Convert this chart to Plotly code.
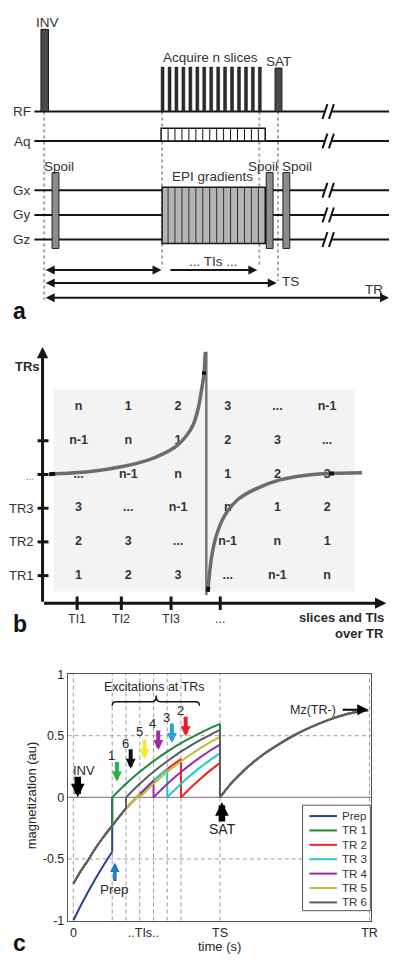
import plotly.graph_objects as go

W, H = 396, 963
FONT = "Liberation Sans, Arial, Helvetica, sans-serif"
INK = "#151515"
TXT = "#262626"


def pxx(p):
    return p / W


def pxy(p):
    return 1 - p / H

# ====================== DATA ======================
# ---- (a) pulse-sequence timing (arbitrary time units) ----
channels = ["RF", "Aq", "Gx", "Gy", "Gz"]
inv_time = 0.5
slice_times = [120.5, 127.6, 134.6, 141.7, 148.8, 155.9, 162.9, 170.0,
               177.1, 184.1, 191.2, 198.3, 205.4, 212.4, 219.5]
sat_time = 238.5
spoil_times = [11.5, 229.5, 246.5]
ts_time = 238.0
tr_time = 351.0
break_time = 289.1

# ---- (b) TI / TR cycling scheme ----
col_positions = [1, 2, 3, 4, 5, 6]
row_positions = [1, 2, 3, 4, 5, 6]
table_rows = [
    ["1", "2", "3", "...", "n-1", "n"],
    ["2", "3", "...", "n-1", "n", "1"],
    ["3", "...", "n-1", "n", "1", "2"],
    ["...", "n-1", "n", "1", "2", "3"],
    ["n-1", "n", "1", "2", "3", "..."],
    ["n", "1", "2", "3", "...", "n-1"],
]
ti_tick_pos = [0.97, 1.86, 2.86, 3.85]
ti_tick_labels = ["TI1", "TI2", "TI3", "..."]
tr_tick_pos = [1, 2, 3, 4, 5]
tr_tick_labels = ["TR1", "TR2", "TR3", "...", ""]
curve_left_x = [0.41, 1.20, 1.86, 2.38, 2.71, 2.98, 3.17, 3.31, 3.41, 3.47, 3.52, 3.55]
curve_left_y = [4.01, 4.08, 4.23, 4.42, 4.62, 4.86, 5.15, 5.49, 5.98, 6.47, 6.96, 7.64]
jump_x = [3.57, 3.57]
jump_y = [7.64, 0.42]
curve_right_x = [3.60, 3.67, 3.77, 3.93, 4.20, 4.59, 5.05, 5.58, 6.04, 6.70]
curve_right_y = [0.52, 1.50, 2.18, 2.76, 3.25, 3.59, 3.84, 3.98, 4.03, 4.05]

# ---- (c) longitudinal magnetization ----
exc_times = [0.265, 0.359, 0.453, 0.547, 0.640, 0.734]
TS = 1.0
TR = 2.02
xtick_vals = [0, 0.478, 1.0, 2.02]
xtick_text = ["0", "..TIs..", "TS", "TR"]
ytick_vals = [-1, -0.5, 0, 0.5, 1]
ytick_text = ["-1", "-0.5", "0", "0.5", "1"]

post_ts_t = [1.0, 1.085, 1.174, 1.286, 1.40, 1.50, 1.60, 1.732, 1.82, 1.92, 2.01]
post_ts_m = [0.0, 0.125, 0.23, 0.34, 0.43, 0.50, 0.56, 0.625, 0.66, 0.69, 0.705]

prep_t = [0, 0.05, 0.10, 0.15, 0.20, 0.265, None, 0.265, 0.265]
prep_m = [-1.0, -0.88, -0.768, -0.662, -0.563, -0.442, None, -0.442, 0.0]

tr1_t = [0, 0.05, 0.10, 0.15, 0.20, 0.265, None, 0.265, 0.265, None,
         0.265, 0.359, 0.453, 0.547, 0.640, 0.734, 0.80, 0.867, 0.934, 1.0, None,
         1.0, 1.0, None] + post_ts_t
tr1_m = [-0.70, -0.60, -0.51, -0.415, -0.33, -0.23, None, -0.23, 0.0, None,
         0.0, 0.110, 0.207, 0.294, 0.371, 0.440, 0.483, 0.524, 0.562, 0.596, None,
         0.596, 0.0, None] + post_ts_m

tr2_t = [0, 0.05, 0.10, 0.15, 0.20, 0.265, 0.359, 0.453, 0.547, 0.640, 0.734, None,
         0.734, 0.734, None,
         0.734, 0.80, 0.867, 0.934, 1.0, None,
         1.0, 1.0, None] + post_ts_t
tr2_m = [-0.70, -0.60, -0.51, -0.415, -0.33, -0.23, -0.09, 0.025, 0.135, 0.23, 0.31, None,
         0.31, 0.0, None,
         0.0, 0.078, 0.151, 0.219, 0.280, None,
         0.280, 0.0, None] + post_ts_m

tr3_t = [0, 0.05, 0.10, 0.15, 0.20, 0.265, 0.359, 0.453, 0.547, 0.640, None,
         0.640, 0.640, None,
         0.640, 0.734, 0.80, 0.867, 0.934, 1.0, None,
         1.0, 1.0, None] + post_ts_t
tr3_m = [-0.70, -0.60, -0.51, -0.415, -0.33, -0.23, -0.09, 0.025, 0.135, 0.23, None,
         0.23, 0.0, None,
         0.0, 0.110, 0.179, 0.245, 0.304, 0.359, None,
         0.359, 0.0, None] + post_ts_m

tr4_t = [0, 0.05, 0.10, 0.15, 0.20, 0.265, 0.359, 0.453, 0.547, None,
         0.547, 0.547, None,
         0.547, 0.640, 0.734, 0.80, 0.867, 0.934, 1.0, None,
         1.0, 1.0, None] + post_ts_t
tr4_m = [-0.70, -0.60, -0.51, -0.415, -0.33, -0.23, -0.09, 0.025, 0.135, None,
         0.135, 0.0, None,
         0.0, 0.109, 0.206, 0.268, 0.326, 0.380, 0.428, None,
         0.428, 0.0, None] + post_ts_m

tr5_t = [0, 0.05, 0.10, 0.15, 0.20, 0.265, 0.359, 0.453, None,
         0.453, 0.453, None,
         0.453, 0.547, 0.640, 0.734, 0.80, 0.867, 0.934, 1.0, None,
         1.0, 1.0, None] + post_ts_t
tr5_m = [-0.70, -0.60, -0.51, -0.415, -0.33, -0.23, -0.09, 0.025, None,
         0.025, 0.0, None,
         0.0, 0.110, 0.206, 0.293, 0.348, 0.400, 0.448, 0.491, None,
         0.491, 0.0, None] + post_ts_m

tr6_t = [0, 0.05, 0.10, 0.15, 0.20, 0.265, 0.359, None,
         0.359, 0.359, None,
         0.359, 0.453, 0.547, 0.640, 0.734, 0.80, 0.867, 0.934, 1.0, None,
         1.0, 1.0, None] + post_ts_t
tr6_m = [-0.70, -0.60, -0.51, -0.415, -0.33, -0.23, -0.09, None,
         -0.09, 0.0, None,
         0.0, 0.110, 0.207, 0.293, 0.371, 0.420, 0.466, 0.508, 0.547, None,
         0.547, 0.0, None] + post_ts_m

series_names = ["Prep", "TR 1", "TR 2", "TR 3", "TR 4", "TR 5", "TR 6"]
series_t = [prep_t, tr1_t, tr2_t, tr3_t, tr4_t, tr5_t, tr6_t]
series_m = [prep_m, tr1_m, tr2_m, tr3_m, tr4_m, tr5_m, tr6_m]
series_colors = ["#24409c", "#1b8a3d", "#f2231d", "#27c9cc", "#9d2aa8", "#c2bd33", "#5c5c5c"]

exc_labels = ["1", "6", "5", "4", "3", "2"]
exc_colors = ["#2aaf4a", "#111111", "#f3ea2b", "#9a2f9e", "#26a2dd", "#ec1c24"]

# ====================== LAYOUT HELPERS ======================
shapes = []
annotations = []


def add_line(x0, y0, x1, y1, xref, yref, color, width, dash=None, layer="above"):
    ln = dict(color=color, width=width)
    if dash:
        ln["dash"] = dash
    shapes.append(dict(type="line", x0=x0, y0=y0, x1=x1, y1=y1, xref=xref, yref=yref,
                       line=ln, layer=layer))


def add_rect(x0, y0, x1, y1, xref, yref, fill, lcolor, lwidth, layer="above"):
    shapes.append(dict(type="rect", x0=x0, y0=y0, x1=x1, y1=y1, xref=xref, yref=yref,
                       fillcolor=fill, line=dict(color=lcolor, width=lwidth), layer=layer))


def add_text(text, x, y, xref="paper", yref="paper", size=13, color=TXT, xanchor="center",
             bold=False, angle=0):
    annotations.append(dict(text=text, x=x, y=y, xref=xref, yref=yref, showarrow=False,
                            xanchor=xanchor, yanchor="middle", textangle=angle,
                            font=dict(family=FONT, size=size, color=color,
                                      weight="bold" if bold else "normal")))


def add_arrow(x, y, ax, ay, xref, yref, color, width, head=2, size=1.0, both=False,
              data_tail=False):
    d = dict(x=x, y=y, ax=ax, ay=ay, xref=xref, yref=yref, text="", showarrow=True,
             arrowhead=head, arrowsize=size, arrowwidth=width, arrowcolor=color,
             standoff=0, startstandoff=0)
    if data_tail:
        d.update(axref=xref, ayref=yref)
    if both:
        d.update(arrowside="end+start", startarrowhead=head, startarrowsize=size)
    annotations.append(d)

# ====================== PANEL A ======================
A_LEVEL = {"RF": 106, "Aq": 136, "Gx": 186, "Gy": 211, "Gz": 236}
A_LINE_START = -10

# dotted timing markers
dotted = [(inv_time - 0.5, 297), (slice_times[0] - 0.5, 265),
          (slice_times[-1] - 0.5, 262), (ts_time, 278)]
for t, yend in dotted:
    add_line(t, A_LEVEL["RF"], t, yend, "x", "y", "#a3a3a3", 2, "dot")

for ch in channels:
    yl = A_LEVEL[ch]
    add_line(A_LINE_START, yl, break_time - 3.3, yl, "x", "y", INK, 2)
    add_line(break_time + 3.3, yl, tr_time, yl, "x", "y", INK, 2)
    for c in (break_time - 3.3, break_time + 3.3):
        add_line(c - 2.5, yl + 7.5, c + 2.5, yl - 7.5, "x", "y", INK, 2)
    add_text(ch, A_LINE_START - 1.5, yl, "x", "y", size=13.5, xanchor="right", color="#333333")

# RF pulses
add_rect(inv_time - 3.8, 22.7, inv_time + 3.8, A_LEVEL["RF"], "x", "y", "#4a4a4a", INK, 1)
for t in slice_times:
    add_rect(t - 1.5, 61, t + 1.5, A_LEVEL["RF"], "x", "y", "#2c2c2c", INK, 0.5)
add_rect(sat_time - 3.5, 62, sat_time + 3.5, A_LEVEL["RF"], "x", "y", "#4a4a4a", INK, 1)

# acquisition windows
aq_x0 = slice_times[0] - 1.5
aq_x1 = slice_times[-1] + 5.5
add_rect(aq_x0, 123, aq_x1, A_LEVEL["Aq"], "x", "y", "white", INK, 1.5)
for t in slice_times[1:]:
    add_line(t - 1.5, 123, t - 1.5, A_LEVEL["Aq"], "x", "y", INK, 1)

# EPI gradients
add_rect(slice_times[0] - 0.5, 183, aq_x1, 240, "x", "y", "#b4b4b4", INK, 1.5)
for t in slice_times[1:]:
    add_line(t - 1.5, 183, t - 1.5, 240, "x", "y", "#303030", 1)

# spoilers
for t in spoil_times:
    add_rect(t - 3.5, 168, t + 3.5, 245, "x", "y", "#8c8c8c", "#222222", 1)

# texts
add_text("INV", inv_time + 2.5, 16, "x", "y", size=13.5, color="#333333")
add_text("Acquire n slices", (slice_times[0] + slice_times[-1]) / 2 - 1, 51, "x", "y",
         size=13.5, color="#333333")
add_text("SAT", sat_time, 55, "x", "y", size=13.5, color="#333333")
add_text("Spoil", spoil_times[0] - 13.5, 162, "x", "y", size=13.5, color="#333333", xanchor="left")
add_text("Spoil", spoil_times[1] - 6.5, 162, "x", "y", size=13.5, color="#333333")
add_text("Spoil", spoil_times[2] + 10.5, 162, "x", "y", size=13.5, color="#333333")
add_text("EPI gradients", 171, 172, "x", "y", size=13.5, color="#333333")
add_text("... TIs ...", 172, 258, "x", "y", size=13.5, color="#333333")
add_text("TS", ts_time + 13, 279, "x", "y", size=13.5, color="#333333")
add_text("TR", tr_time - 15, 287, "x", "y", size=13.5, color="#333333")

# timing arrows
add_arrow(slice_times[0] - 1, 267, inv_time - 0.5, 267, "x", "y", INK, 2, size=0.9,
          both=True, data_tail=True)
add_arrow(slice_times[-1] - 2.5, 267, slice_times[1] - 0.6, 267, "x", "y", INK, 2, size=0.9,
          data_tail=True)
add_arrow(ts_time - 1.3, 280, inv_time - 0.5, 280, "x", "y", INK, 2, size=0.9,
          both=True, data_tail=True)
add_arrow(tr_time, 295, inv_time - 0.5, 295, "x", "y", INK, 2, size=0.9,
          both=True, data_tail=True)

add_text("a", pxx(20), pxy(308), size=23, bold=True, color="#111111")

# ====================== PANEL B ======================
B_AX_X = 0.275   # y-axis position (column units)
B_AX_Y = 0.181   # x-axis position (row units)

add_rect(0.5, 0.53, 6.56, 6.53, "x2", "y2", "#f3f3f3", "rgba(0,0,0,0)", 0, layer="below")

add_arrow(B_AX_X, 7.78, B_AX_X, B_AX_Y, "x2", "y2", INK, 3, size=0.75, data_tail=True)
add_arrow(7.19, B_AX_Y, B_AX_X, B_AX_Y, "x2", "y2", INK, 3, size=0.75, data_tail=True)

for r in tr_tick_pos:
    add_line(B_AX_X - 0.1, r, B_AX_X + 0.12, r, "x2", "y2", INK, 3)
for c in ti_tick_pos:
    add_line(c, B_AX_Y - 0.2, c, B_AX_Y + 0.2, "x2", "y2", INK, 3)

# tick labels (paper coords)
for r, lab in zip(tr_tick_pos, tr_tick_labels):
    if not lab:
        continue
    ypix = 577 - (r - 1) * 34.2
    if lab == "...":
        add_text(lab, pxx(37), pxy(ypix + 2), size=10, color="#777777", xanchor="right")
    else:
        add_text(lab, pxx(37), pxy(ypix), size=13, color="#333333", xanchor="right")
for c, lab in zip(ti_tick_pos, ti_tick_labels):
    xpix = 80 + (c - 1) * 50.6
    add_text(lab, pxx(xpix), pxy(621), size=12.5, color="#333333")

add_text("TRs", pxx(27.5), pxy(365), size=13, bold=True, color="#2a2a2a")
add_text("slices and TIs", pxx(393), pxy(620), size=13, bold=True, color="#2a2a2a", xanchor="right")
add_text("over TR", pxx(393), pxy(636), size=13, bold=True, color="#2a2a2a", xanchor="right")
add_text("b", pxx(20), pxy(626), size=23, bold=True, color="#111111")

# ====================== PANEL C ======================
grid_dash = "4px,3px"
for t in [0] + exc_times + [TS, TR]:
    add_line(t, 0, t, 1, "x3", "y3 domain", "#9c9c9c", 1, grid_dash, layer="below")
for m in [-0.5, 0.5]:
    add_line(0, m, 1, m, "x3 domain", "y3", "#9c9c9c", 1, grid_dash, layer="below")
add_line(0, 0, 1, 0, "x3 domain", "y3", "#8a8a8a", 1.3, layer="below")

# brace over excitations
bl, bm, br_ = exc_times[0], 0.565, 0.86
yb, ye, yt = 0.776, 0.744, 0.826
brace = (f"M {bl},{ye} Q {bl},{yb} {bl + 0.025},{yb} L {bm - 0.025},{yb} "
         f"Q {bm},{yb} {bm},{yt} Q {bm},{yb} {bm + 0.025},{yb} "
         f"L {br_ - 0.025},{yb} Q {br_},{yb} {br_},{ye}")
shapes.append(dict(type="path", path=brace, xref="x3", yref="y3",
                   line=dict(color=INK, width=1.5)))
add_text("Excitations at TRs", 0.552, 0.896, "x3", "y3", size=12.5, color="#262626")

# excitation arrows with numbers
exc_tip = [0.128, 0.232, 0.312, 0.384, 0.442, 0.496]
exc_num_y = [0.336, 0.44, 0.536, 0.60, 0.652, 0.704]
for t, lab, col, tip, ny in zip(exc_times, exc_labels, exc_colors, exc_tip, exc_num_y):
    add_arrow(t + 0.032, tip, 0, -21, "x3", "y3", col, 4, head=2, size=0.5)
    add_text(lab, t - 0.004, ny, "x3", "y3", size=13, color="#262626")

add_arrow(0.03, 0.0, 0, -22, "x3", "y3", "#000000", 6.5, head=2, size=0.42)
add_text("INV", 0.074, 0.216, "x3", "y3", size=13, color="#262626")
add_arrow(1.013, -0.038, 0, 21, "x3", "y3", "#000000", 6.5, head=2, size=0.42)
add_text("SAT", 1.017, -0.256, "x3", "y3", size=14, color="#262626")
add_arrow(0.283, -0.528, 0, 20, "x3", "y3", "#1f78c8", 3.5, head=2, size=0.55)
add_text("Prep", 0.281, -0.752, "x3", "y3", size=13.5, color="#262626")
add_arrow(2.011, 0.712, -27, 0, "x3", "y3", "#000000", 2, head=2, size=1.1)
add_text("Mz(TR-)", 1.805, 0.712, "x3", "y3", size=12.5, color="#262626", xanchor="right")

add_text("magnetization (au)", pxx(31.5), pxy(800), size=13, color="#262626", angle=-90)
add_text("time (s)", pxx(223), pxy(953), size=13, color="#262626")
add_text("c", pxx(20), pxy(950), size=23, bold=True, color="#111111")

# manual legend (compact, MATLAB-like)
add_rect(pxx(308), pxy(917), pxx(377), pxy(810), "paper", "paper", "white", "#555555", 1)
for i, (name, col) in enumerate(zip(series_names, series_colors)):
    yy = 821 + 14.6 * i
    add_line(pxx(315), pxy(yy), pxx(343), pxy(yy), "paper", "paper", col, 2)
    add_text(name, pxx(346), pxy(yy), size=11.5, color="#333333", xanchor="left")

# ====================== TRACES ======================
fig = go.Figure()

# panel b table
tx, ty, tt = [], [], []
for ri, row in enumerate(table_rows):
    for ci, val in enumerate(row):
        tx.append(col_positions[ci])
        ty.append(row_positions[ri])
        tt.append(val)
fig.add_trace(go.Scatter(x=tx, y=ty, text=tt, mode="text", xaxis="x2", yaxis="y2",
                         textfont=dict(family=FONT, size=12.5, color="#333333", weight="bold"),
                         hoverinfo="skip", showlegend=False))

# panel b curve
fig.add_trace(go.Scatter(x=jump_x, y=jump_y, mode="lines", xaxis="x2", yaxis="y2",
                         line=dict(color="#777777", width=2.5), showlegend=False, hoverinfo="skip"))
fig.add_trace(go.Scatter(x=curve_left_x, y=curve_left_y, mode="lines", xaxis="x2", yaxis="y2",
                         line=dict(color="#6c6c6c", width=3.5, shape="spline", smoothing=0.8),
                         showlegend=False, hoverinfo="skip"))
fig.add_trace(go.Scatter(x=curve_right_x, y=curve_right_y, mode="lines", xaxis="x2", yaxis="y2",
                         line=dict(color="#6c6c6c", width=3.5, shape="spline", smoothing=0.8),
                         showlegend=False, hoverinfo="skip"))
# dark tips of the curve
for xs, ys in [(curve_left_x[:2], curve_left_y[:2]), (curve_left_x[-2:], curve_left_y[-2:]),
               (curve_right_x[-2:], curve_right_y[-2:]), (curve_right_x[:2], curve_right_y[:2])]:
    fig.add_trace(go.Scatter(x=[xs[0], xs[0] + (xs[1] - xs[0]) * 0.15],
                             y=[ys[0], ys[0] + (ys[1] - ys[0]) * 0.15],
                             mode="lines", xaxis="x2", yaxis="y2",
                             line=dict(color="#111111", width=4), showlegend=False,
                             hoverinfo="skip"))

# panel c magnetization curves
for name, t, m, col in zip(series_names, series_t, series_m, series_colors):
    fig.add_trace(go.Scatter(x=t, y=m, name=name, mode="lines", xaxis="x3", yaxis="y3",
                             line=dict(color=col, width=2, shape="spline", smoothing=0.6),
                             connectgaps=False, showlegend=False, hoverinfo="skip"))

fig.update_layout(
    width=W, height=H,
    margin=dict(l=0, r=0, t=0, b=0),
    paper_bgcolor="white", plot_bgcolor="white",
    font=dict(family=FONT, color=TXT),
    showlegend=False,
    xaxis=dict(domain=[0, 1], range=[-45, 351], visible=False, anchor="y"),
    yaxis=dict(domain=[pxy(310), 1], range=[310, 0], visible=False, anchor="x"),
    xaxis2=dict(domain=[0, 1], range=[1 + (0 - 80) / 50.6, 1 + (396 - 80) / 50.6],
                visible=False, anchor="y2"),
    yaxis2=dict(domain=[pxy(615), pxy(330)], range=[1 + (577 - 615) / 34.2, 1 + (577 - 330) / 34.2],
                visible=False, anchor="x2"),
    xaxis3=dict(domain=[pxx(69), pxx(378)], range=[-0.038, 2.032], anchor="y3",
                tickvals=xtick_vals, ticktext=xtick_text, ticks="", showgrid=False,
                zeroline=False, showline=True, mirror=True, linecolor="#555555", linewidth=1,
                tickfont=dict(family=FONT, size=12.5, color="#262626")),
    yaxis3=dict(domain=[pxy(927), pxy(677)], range=[-1, 1], anchor="x3",
                tickvals=ytick_vals, ticktext=ytick_text, ticks="", showgrid=False,
                zeroline=False, showline=True, mirror=True, linecolor="#555555", linewidth=1,
                tickfont=dict(family=FONT, size=12.5, color="#262626")),
    shapes=shapes,
    annotations=annotations,
)

fig.write_html(
    "out.html",
    config={"displayModeBar": False},
    post_script="document.body.style.margin='0px';document.body.style.overflow='hidden';"
                "window.scrollTo(0,0);",
)
